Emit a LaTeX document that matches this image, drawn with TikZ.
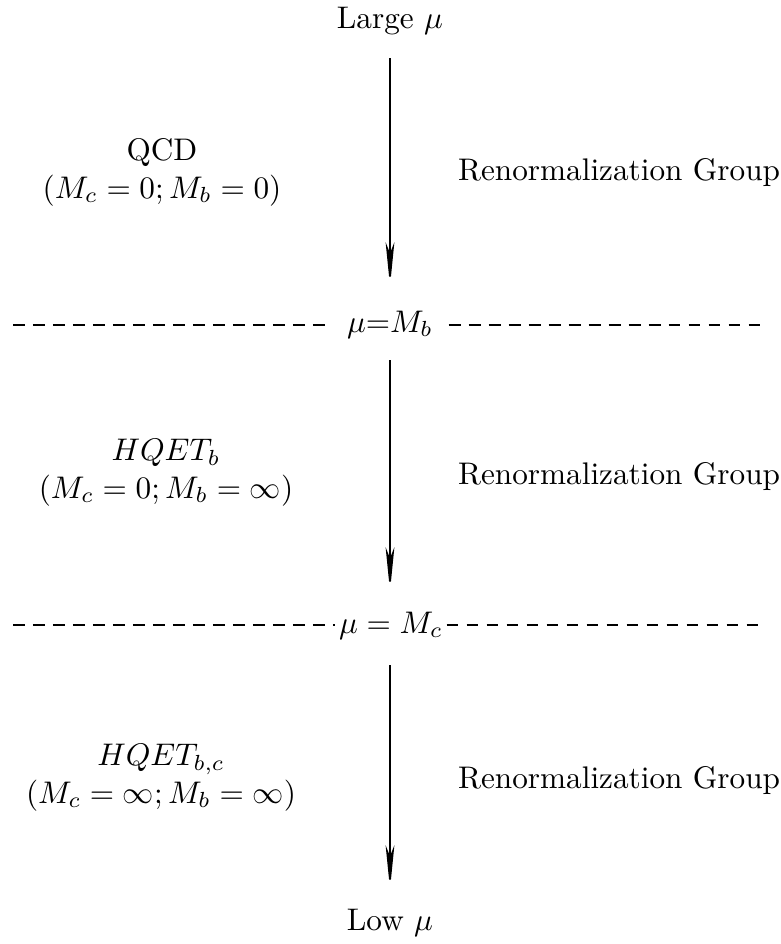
\documentclass[tikz,border=0pt]{standalone}
\usepackage{amsmath,amssymb}
\usepackage{tikz}
\usetikzlibrary{arrows.meta}

\begin{document}
\begin{tikzpicture}[x=0.32pt, y=-0.32pt,
  rgflow/.style={line width=0.6pt, -{Stealth[length=14pt, width=2.8pt, inset=3.5pt]}},
  thresh/.style={line width=0.6pt, dash pattern=on 3.8pt off 2.6pt},
  regime/.style={align=center, anchor=base}]
\useasboundingbox (0,0) rectangle (781,944);
% scales
\node[anchor=base] (large) at (390,28) {Large $\mu$};
\node[anchor=base] (low) at (390,930) {Low $\mu$};
\node[anchor=base, inner sep=4.8pt] (mub) at (390,332) {$\mu{=}M_b$};
\node[anchor=base, inner sep=1pt] (muc) at (391,633) {$\mu = M_c$};
% thresholds
\coordinate (d1l) at (13,325); \coordinate (d1r) at (765,325);
\coordinate (d2l) at (13,625); \coordinate (d2r) at (765,625);
\draw[thresh] (d1l) -- (d1l -| mub.west);
\draw[thresh] (d1r -| mub.east) -- (d1r);
\draw[thresh] (d2l) -- (d2l -| muc.west);
\draw[thresh] (d2r -| muc.east) -- (d2r);
% running
\coordinate (a1s) at (390,58);  \coordinate (a1e) at (390,286);
\coordinate (a2s) at (390,360); \coordinate (a2e) at (390,591);
\coordinate (a3s) at (390,665); \coordinate (a3e) at (390,889);
\draw[rgflow] (a1s) -- (a1e);
\draw[rgflow] (a2s) -- (a2e);
\draw[rgflow] (a3s) -- (a3e);
% theories
\node[regime] (qcd) at (162,198) {QCD\\$(M_c=0; M_b=0)$};
\node[regime] (hqetb) at (166,498) {$HQET_b$\\$(M_c=0; M_b=\infty)$};
\node[regime] (hqetbc) at (161,803) {$HQET_{b,c}$\\$(M_c=\infty; M_b=\infty)$};
\node[anchor=base west] (rg1) at (447,180) {Renormalization Group};
\node[anchor=base west] (rg2) at (447,484) {Renormalization Group};
\node[anchor=base west] (rg3) at (447,788) {Renormalization Group};
\end{tikzpicture}
\end{document}
